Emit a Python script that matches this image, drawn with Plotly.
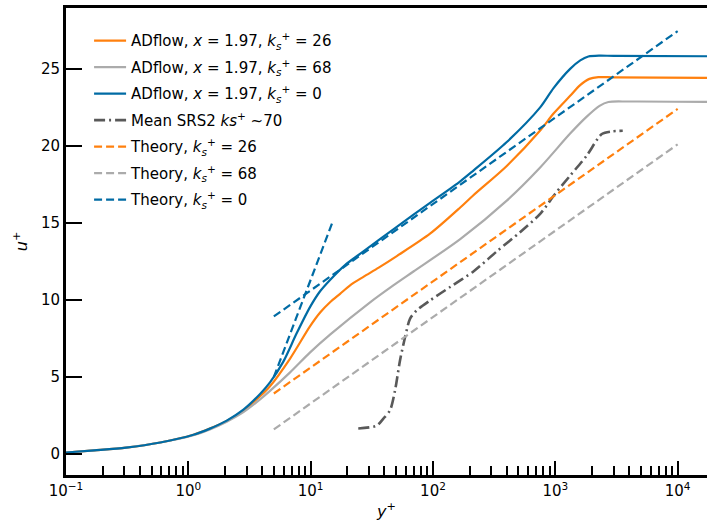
import plotly.graph_objects as go

# ---------------- data ----------------
yp_ks0 = [0.1, 0.17, 0.31, 0.59, 1.1, 1.5, 2.06, 2.82, 3.86, 4.65, 5.98, 7.7, 9.9, 11.9, 14.4, 19, 27, 50.6,
          94.6, 167, 214, 401, 752, 967, 1322, 1600, 1862, 2300, 3000, 17378]
u_ks0 = [0.1, 0.24, 0.42, 0.75, 1.25, 1.65, 2.17, 2.88, 3.9, 4.65, 6.0, 7.85, 9.55, 10.55, 11.3, 12.25, 13.15,
         14.75, 16.3, 17.7, 18.4, 20.25, 22.5, 23.75, 25.0, 25.55, 25.8, 25.86, 25.84, 25.82]

yp_ks26 = [0.1, 0.17, 0.31, 0.59, 1.1, 1.5, 2.06, 2.82, 3.86, 4.65, 6.79, 9.9, 12, 14.4, 17.4, 21, 27, 36,
           50.6, 94.6, 167, 214, 401, 752, 967, 1322, 1596, 1900, 2249, 3000, 17378]
u_ks26 = [0.1, 0.24, 0.42, 0.75, 1.25, 1.65, 2.15, 2.82, 3.75, 4.4, 6.2, 8.3, 9.2, 9.85, 10.4, 10.95, 11.5,
          12.1, 12.85, 14.3, 16.0, 16.8, 18.7, 21.0, 22.1, 23.25, 23.95, 24.35, 24.46, 24.45, 24.42]

yp_ks68 = [0.1, 0.17, 0.31, 0.59, 1.1, 1.5, 2.06, 2.82, 3.86, 4.65, 6.79, 9.9, 14.4, 30.6, 47.4,
           69.2, 167, 401, 752, 1322, 1807, 2300, 2716, 4000, 17378]
u_ks68 = [0.1, 0.24, 0.42, 0.75, 1.22, 1.6, 2.1, 2.72, 3.55, 4.1, 5.3, 6.6, 7.75, 9.85, 10.95,
          11.85, 13.95, 16.45, 18.6, 20.8, 21.9, 22.6, 22.85, 22.88, 22.86]

yp_srs2 = [24.5, 34.7, 39.3, 44.6, 49, 53.8, 59.2, 65, 73.7, 94.6, 138, 214, 332, 515, 752, 995,
           1322, 1807, 2400, 2896, 3557]
u_srs2 = [1.66, 1.85, 2.3, 2.85, 4.15, 6.09, 7.6, 8.79, 9.33, 9.97, 10.84, 11.85, 13.15, 14.4, 15.59,
          16.88, 18.07, 19.37, 20.77, 20.94, 20.98]

yp_theory = [5, 10000]
u_theory_ks26 = [3.93, 22.4]
u_theory_ks68 = [1.6, 20.1]
u_theory_ks0 = [8.93, 27.45]
yp_visc = [5, 15]
u_visc = [5, 15]

x_ticks = [0.1, 1, 10, 100, 1000, 10000]
x_ticktext = ["10<sup>\u22121</sup>", "10<sup>0</sup>", "10<sup>1</sup>",
              "10<sup>2</sup>", "10<sup>3</sup>", "10<sup>4</sup>"]
y_ticks = [0, 5, 10, 15, 20, 25]

# ---------------- style ----------------
BLUE = "#006BA4"
ORANGE = "#FF800E"
GRAY = "#ABABAB"
DARK = "#595959"
FONT = "DejaVu Sans"
KS = "<i>k</i><sub><i>s</i></sub><sup>+</sup>"

fig = go.Figure()


def add(x, y, name, color, dash="solid", width=2.2, show=True, group=None, shape="spline"):
    line = dict(color=color, dash=dash, width=width, shape=shape)
    if shape == "spline":
        line["smoothing"] = 0.8
    fig.add_trace(go.Scatter(
        x=x, y=y, mode="lines", name=name, line=line,
        showlegend=show, legendgroup=group or name,
    ))


DASH = "8px,4px"
add(yp_ks26, u_ks26, f"ADflow, <i>x</i> = 1.97, {KS} = 26", ORANGE)
add(yp_ks68, u_ks68, f"ADflow, <i>x</i> = 1.97, {KS} = 68", GRAY)
add(yp_ks0, u_ks0, f"ADflow, <i>x</i> = 1.97, {KS} = 0", BLUE)
add(yp_srs2, u_srs2, "Mean SRS2 <i>ks</i><sup>+</sup> ~70", DARK, dash="11px,4px,2px,4px", width=2.6)
add(yp_theory, u_theory_ks26, f"Theory, {KS} = 26", ORANGE, dash=DASH, shape="linear")
add(yp_theory, u_theory_ks68, f"Theory, {KS} = 68", GRAY, dash=DASH, shape="linear")
add(yp_theory, u_theory_ks0, f"Theory, {KS} = 0", BLUE, dash=DASH, shape="linear", group="t0")
add(yp_visc, u_visc, "visc", BLUE, dash=DASH, shape="linear", show=False, group="t0")

minor_vals = [m * 10 ** e for e in range(-1, 5) for m in range(2, 10)]

fig.update_layout(
    width=707, height=528,
    margin=dict(l=66, r=0, t=8, b=53),
    plot_bgcolor="white", paper_bgcolor="white",
    font=dict(family=FONT, size=15, color="black"),
    showlegend=True,
    legend=dict(x=0.036, y=0.965, xanchor="left", yanchor="top",
                bgcolor="rgba(0,0,0,0)", borderwidth=0, itemwidth=32,
                font=dict(family=FONT, size=15), tracegroupgap=4),
    xaxis=dict(
        type="log", range=[-1, 4.24],
        tickmode="array", tickvals=x_ticks, ticktext=x_ticktext,
        ticks="inside", ticklen=14, tickwidth=2, tickcolor="black",
        minor=dict(tickmode="array", tickvals=minor_vals, ticks="inside", ticklen=9,
                   tickwidth=1.5, tickcolor="black", showgrid=False),
        showline=True, linewidth=3, linecolor="black", mirror=True,
        showgrid=False, zeroline=False,
        title=dict(text="<i>y</i><sup>+</sup>", font=dict(size=16), standoff=7),
    ),
    yaxis=dict(
        range=[-1.36, 28.95],
        tickmode="array", tickvals=y_ticks,
        ticks="inside", ticklen=16, tickwidth=2, tickcolor="black",
        showline=True, linewidth=3, linecolor="black",
        showgrid=False, zeroline=False,
        title=dict(text="<i>u</i><sup>+</sup>", font=dict(size=16), standoff=10),
    ),
)

fig.write_html("out.html")
